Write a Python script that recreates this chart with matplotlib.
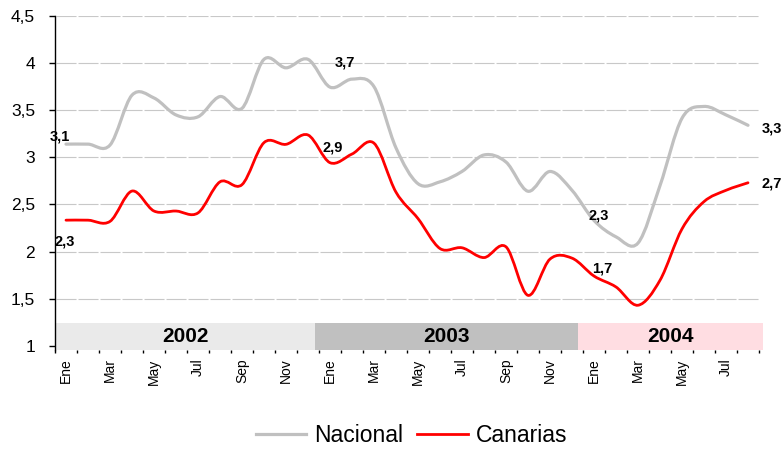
import matplotlib
matplotlib.use('Agg')
import numpy as np
import matplotlib.pyplot as plt
from matplotlib.path import Path
from matplotlib.patches import PathPatch, Rectangle
from matplotlib.lines import Line2D

plt.rcParams['font.family'] = ['Liberation Sans', 'DejaVu Sans']
plt.rcParams['lines.scale_dashes'] = False

# ---- data ----
months = (['Ene', 'Feb', 'Mar', 'Abr', 'May', 'Jun', 'Jul', 'Ago', 'Sep', 'Oct', 'Nov', 'Dic'] * 2
          + ['Ene', 'Feb', 'Mar', 'Abr', 'May', 'Jun', 'Jul', 'Ago'])
years = ['2002', '2003', '2004']
nacional = [3.14, 3.14, 3.13, 3.66, 3.63, 3.45, 3.43, 3.645, 3.52, 4.04, 3.95, 4.04,
            3.745, 3.83, 3.75, 3.10, 2.72, 2.74, 2.85, 3.025, 2.95, 2.64,
            2.85, 2.65, 2.33, 2.156, 2.09, 2.70, 3.415, 3.54, 3.45, 3.34]
canarias = [2.333, 2.333, 2.32, 2.642, 2.43, 2.43, 2.41, 2.74, 2.71, 3.156, 3.138, 3.237,
            2.943, 3.035, 3.15, 2.63, 2.35, 2.032, 2.04, 1.936, 2.05, 1.535,
            1.92, 1.93, 1.74, 1.624, 1.43, 1.695, 2.24, 2.53, 2.65, 2.73]
label_idx = [0, 12, 24, 31]
nacional_labels = ['3,1', '3,7', '2,3', '3,3']
canarias_labels = ['2,3', '2,9', '1,7', '2,7']
yticks = [1, 1.5, 2, 2.5, 3, 3.5, 4, 4.5]

# ---- figure ----
W, H = 784, 449
fig = plt.figure(figsize=(W / 100, H / 100), dpi=100)
ax = fig.add_axes([55 / W, 1 - 350 / H, 704 / W, 334 / H])
ymin = 0.955
ax.set_xlim(-0.5, len(months) - 0.5)
ax.set_ylim(ymin, 4.5)

x = np.arange(len(months))


def smooth_path(xs, ys):
    pts = np.column_stack([xs, ys]).astype(float)
    n = len(pts)
    verts = [pts[0]]
    codes = [Path.MOVETO]
    for i in range(n - 1):
        p0 = pts[max(i - 1, 0)]
        p1 = pts[i]
        p2 = pts[i + 1]
        p3 = pts[min(i + 2, n - 1)]
        c1 = p1 + (p2 - p0) / 6.0
        c2 = p2 - (p3 - p1) / 6.0
        verts += [c1, c2, p2]
        codes += [Path.CURVE4] * 3
    return Path(verts, codes)


gray = '#C0C0C0'
red = '#FF0000'
ax.add_patch(PathPatch(smooth_path(x, nacional), fill=False, edgecolor=gray,
                       lw=2.3, zorder=3, capstyle='round', joinstyle='round'))
ax.add_patch(PathPatch(smooth_path(x, canarias), fill=False, edgecolor=red,
                       lw=2.0, zorder=4, capstyle='round', joinstyle='round'))

# grid
for yv in yticks:
    ax.axhline(yv, color='#C8C8C8', lw=0.8, linestyle=(15.1, (14.4, 1.44)), zorder=0)

# year bands
band_colors = ['#EAEAEA', '#C0C0C0', '#FFDDE2']
band_edges = [-0.5, 11.32, 23.27, 31.68]
band_top = 1.24
for i, yr in enumerate(years):
    x0, x1 = band_edges[i], band_edges[i + 1]
    ax.add_patch(Rectangle((x0, ymin), x1 - x0, band_top - ymin, facecolor=band_colors[i],
                           edgecolor='none', zorder=1, clip_on=False))
    ax.text((x0 + x1) / 2, (ymin + band_top) / 2, yr, ha='center', va='center',
            fontsize=15, fontweight='bold', zorder=2)

# data labels
n_off = [(-6, 8), (15, 25), (5, 5), (24, -3)]
c_off = [(-1, -21), (3, 15), (8, 8), (24, -1)]
for k, i in enumerate(label_idx):
    ax.annotate(nacional_labels[k], (x[i], nacional[i]), xytext=n_off[k],
                textcoords='offset pixels', ha='center', va='center',
                fontsize=10.5, fontweight='bold', zorder=5, annotation_clip=False)
    ax.annotate(canarias_labels[k], (x[i], canarias[i]), xytext=c_off[k],
                textcoords='offset pixels', ha='center', va='center',
                fontsize=10.5, fontweight='bold', zorder=5, annotation_clip=False)

# axes styling
for s in ['top', 'right', 'bottom']:
    ax.spines[s].set_visible(False)
ax.spines['left'].set_color('black')
ax.spines['left'].set_linewidth(1.0)
ax.set_yticks(yticks)
ax.set_yticklabels([('%g' % v).replace('.', ',') for v in yticks])
ax.tick_params(axis='y', direction='out', length=4.3, width=1, pad=10, labelsize=12.5)

ax.set_xticks(x[::2])
ax.set_xticklabels(months[::2], rotation=90)
ax.set_xticks(np.arange(-0.5, len(months), 1.0), minor=True)
ax.tick_params(axis='x', which='major', length=0, pad=6, labelsize=10)
ax.tick_params(axis='x', which='minor', length=2.2, width=1, direction='out')

handles = [Line2D([], [], color=gray, lw=2.3), Line2D([], [], color=red, lw=2.0)]
fig.legend(handles, ['Nacional', 'Canarias'], loc='center', bbox_to_anchor=(0.525, 0.031),
           ncol=2, frameon=False, fontsize=16.5, handlelength=2.2, handletextpad=0.35,
           columnspacing=0.6)

fig.savefig('out.png', dpi=100)
